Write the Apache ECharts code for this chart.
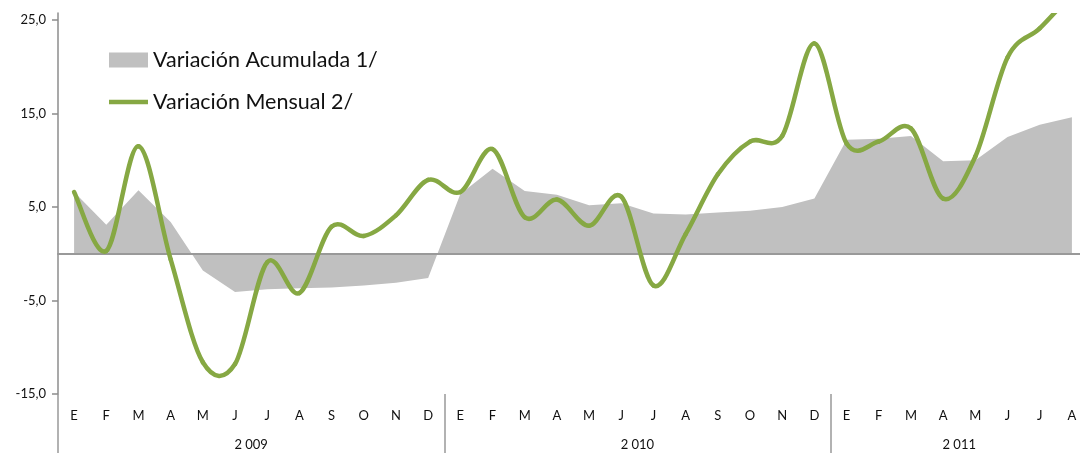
<!DOCTYPE html>
<html>
<head>
<meta charset="utf-8">
<script src="https://cdn.jsdelivr.net/npm/echarts@6/dist/echarts.min.js"></script>
<style>
  html, body { margin: 0; padding: 0; background: #fff; overflow: hidden; }
  #chart { width: 1090px; height: 453px; }
</style>
</head>
<body>
<div id="chart"></div>
<script>
// categories
const months = [
  "E", "F", "M", "A", "M", "J", "J", "A", "S", "O", "N", "D",
  "E", "F", "M", "A", "M", "J", "J", "A", "S", "O", "N", "D",
  "E", "F", "M", "A", "M", "J", "J", "A"
];
const years = ["2 009", "2 010", "2 011"];
const monthsPerYear = [12, 12, 8];

// series values (%)
const acumulada = [
  6.6, 3.1, 6.8, 3.4, -1.8, -4.1, -3.8, -3.7, -3.6, -3.4, -3.1, -2.6,
  6.4, 9.1, 6.7, 6.3, 5.2, 5.4, 4.3, 4.2, 4.4, 4.6, 5.0, 5.9,
  12.2, 12.3, 12.6, 9.9, 10.0, 12.5, 13.8, 14.6
];
const mensual = [
  6.6, 0.3, 11.5, -0.6, -11.6, -11.8, -0.9, -4.2, 2.9, 1.9, 4.1, 7.9,
  6.6, 11.2, 3.9, 5.8, 3.0, 6.1, -3.4, 2.1, 8.5, 12.0, 12.6, 22.5,
  11.8, 12.0, 13.4, 5.9, 10.4, 21.0, 24.1, 27.8
];
const yTicks = [-15, -5, 5, 15, 25];

// year group dividers and label centers, in month units
const yearEdges = [0];
const yearCenters = [];
monthsPerYear.forEach((n, i) => {
  yearCenters.push(yearEdges[i] + n / 2);
  yearEdges.push(yearEdges[i] + n);
});

const green = "#86a843";
const grey = "#c0c0c0";
const axisGrey = "#999999";
const font = "Lato";

// excel-like smoothed segment between point i and i+1
function renderSmooth(params, api) {
  const i = params.dataIndex;
  const last = mensual.length - 1;
  if (i >= last) return null;
  const p = (j) => {
    const k = Math.max(0, Math.min(last, j));
    return api.coord([k, mensual[k]]);
  };
  const p0 = p(i - 1), p1 = p(i), p2 = p(i + 1), p3 = p(i + 2);
  return {
    type: "bezierCurve",
    shape: {
      x1: p1[0], y1: p1[1], x2: p2[0], y2: p2[1],
      cpx1: p1[0] + (p2[0] - p0[0]) / 6,
      cpy1: p1[1] + (p2[1] - p0[1]) / 6,
      cpx2: p2[0] - (p3[0] - p1[0]) / 6,
      cpy2: p2[1] - (p3[1] - p1[1]) / 6
    },
    style: { stroke: green, lineWidth: 4.5, fill: "none", lineCap: "round" }
  };
}

const chart = echarts.init(document.getElementById("chart"));
chart.setOption({
  animation: false,
  textStyle: { fontFamily: font },
  grid: { left: 58, top: 13, right: 2, height: 381 },
  legend: {
    orient: "vertical",
    left: 104,
    top: 44,
    itemWidth: 39,
    itemHeight: 15,
    itemGap: 20,
    textStyle: { fontSize: 21.5, color: "#111", fontFamily: font },
    data: [
      { name: "Variación Acumulada 1/", icon: "rect", itemStyle: { color: grey } },
      {
        name: "Variación Mensual 2/",
        icon: "path://M0,0 L40,0 L40,4.5 L0,4.5 Z",
        itemStyle: { color: green }
      }
    ]
  },
  xAxis: [
    {
      // month labels under the plot
      type: "category",
      data: months,
      position: "bottom",
      axisLine: { show: false, onZero: false },
      axisTick: { show: false },
      axisLabel: { margin: 15, fontSize: 13, color: "#111" },
      splitLine: { show: false }
    },
    {
      // zero line
      type: "category",
      data: months,
      z: 3,
      axisLine: { show: true, onZero: true, lineStyle: { color: axisGrey, width: 2 } },
      axisTick: { show: false },
      axisLabel: { show: false },
      splitLine: { show: false }
    },
    {
      // year labels and dividers
      type: "value",
      min: 0,
      max: yearEdges[yearEdges.length - 1],
      position: "bottom",
      axisLine: { show: false, onZero: false },
      axisTick: {
        show: true,
        customValues: yearEdges.slice(0, -1),
        length: 60,
        lineStyle: { color: axisGrey, width: 1.5 }
      },
      axisLabel: {
        customValues: yearCenters,
        margin: 44,
        fontSize: 13,
        color: "#111",
        formatter: (v) => years[yearCenters.indexOf(v)]
      },
      splitLine: { show: false }
    }
  ],
  yAxis: {
    type: "value",
    min: -15,
    max: 25.75,
    axisLine: { show: true, lineStyle: { color: "#8c8c8c", width: 1.5 } },
    axisTick: {
      show: true,
      customValues: yTicks,
      length: 6,
      lineStyle: { color: "#8c8c8c", width: 1.5 }
    },
    axisLabel: {
      customValues: yTicks,
      margin: 12,
      fontSize: 13,
      color: "#111",
      formatter: (v) => v.toFixed(1).replace(".", ",")
    },
    splitLine: { show: false }
  },
  series: [
    {
      name: "Variación Acumulada 1/",
      type: "line",
      xAxisIndex: 0,
      data: acumulada,
      symbol: "none",
      z: 1,
      color: grey,
      lineStyle: { width: 0 },
      areaStyle: { color: grey, opacity: 1 }
    },
    {
      name: "Variación Mensual 2/",
      type: "custom",
      xAxisIndex: 0,
      data: mensual.map((v, i) => [i, v]),
      encode: { x: 0, y: 1 },
      renderItem: renderSmooth,
      clip: true,
      z: 5,
      itemStyle: { color: green }
    }
  ]
});
</script>
</body>
</html>
